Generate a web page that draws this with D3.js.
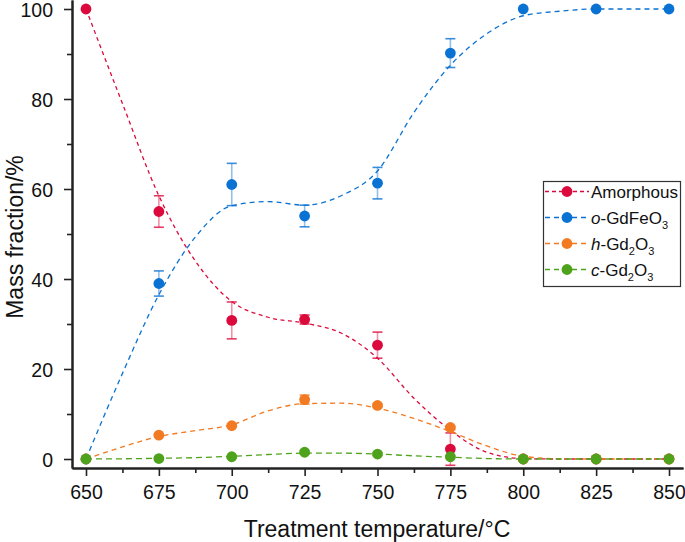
<!DOCTYPE html>
<html>
<head>
<meta charset="utf-8">
<script src="https://cdn.jsdelivr.net/npm/d3@7"></script>
<style>
  html, body { margin: 0; padding: 0; background: #fff; }
  svg { display: block; font-family: "Liberation Sans", Arial, Helvetica, sans-serif; }
</style>
</head>
<body>
<svg id="chart" width="685" height="542"></svg>
<script>
// ---- data ----
const temps = [650, 675, 700, 725, 750, 775, 800, 825, 850];
const amorphous    = [100, 55, 30.8, 31, 25.3, 2.2, 0, 0, 0];
const amorphousErr = [0, 3.5, 4.1, 1.0, 2.9, 3.6, 0, 0, 0];
const gdfeo3       = [0, 39, 61, 54, 61.3, 90.2, 100, 100, 100];
const gdfeo3Err    = [0, 2.8, 4.7, 2.4, 3.5, 3.2, 0, 0, 0];
const hgd2o3       = [0, 5.3, 7.4, 13.2, 11.9, 7.0, 0, 0, 0];
const hgd2o3Err    = [0, 0.3, 0.3, 1.0, 0.4, 0.4, 0, 0, 0];
const cgd2o3       = [0, 0.1, 0.5, 1.5, 1.1, 0.5, 0, 0, 0];
const cgd2o3Err    = [0, 0.1, 0.2, 0.4, 0.3, 0.2, 0, 0, 0];

// fitted (dashed) curves at 12.5 °C steps
const fitTemps     = [650, 662.5, 675, 687.5, 700, 712.5, 725, 737.5, 750, 762.5, 775, 787.5, 800, 812.5, 825, 837.5, 850];
const amorphousFit = [100, 79, 58.5, 44, 35, 31.5, 30.2, 28, 22.4, 13.5, 6.4, 1.5, 0.1, 0, 0, 0, 0];
const gdfeo3Fit    = [0, 19, 36.5, 49.3, 56.3, 57.2, 56.4, 58.5, 64, 77, 87.5, 94.5, 98.5, 99.5, 100, 100, 100];
const hgd2o3Fit    = [0, 2.7, 5.0, 6.3, 7.6, 10.7, 12.3, 12.4, 11.3, 9.0, 6.1, 2.9, 0.6, 0.05, 0, 0, 0];
const cgd2o3Fit    = [0, 0.05, 0.15, 0.3, 0.6, 1.0, 1.3, 1.3, 1.1, 0.7, 0.4, 0.1, 0, 0, 0, 0, 0];

const xMajor = [650, 675, 700, 725, 750, 775, 800, 825, 850];
const xMinor = [662.5, 687.5, 712.5, 737.5, 762.5, 787.5, 812.5, 837.5];
const yMajor = [0, 20, 40, 60, 80, 100];
const yMinor = [10, 30, 50, 70, 90];

const seriesDefs = [
  { key: "amorphous", values: amorphous, err: amorphousErr, fit: amorphousFit, color: "#dc0a3c", dash: "4,3.5" },
  { key: "gdfeo3",    values: gdfeo3,    err: gdfeo3Err,    fit: gdfeo3Fit,    color: "#0a72d2", dash: "5,4" },
  { key: "hgd2o3",    values: hgd2o3,    err: hgd2o3Err,    fit: hgd2o3Fit,    color: "#f27a22", dash: "5,4" },
  { key: "cgd2o3",    values: cgd2o3,    err: cgd2o3Err,    fit: cgd2o3Fit,    color: "#4fa31c", dash: "6,4" }
];

// ---- scales ----
const svg = d3.select("#chart");
const x = d3.scaleLinear().domain([645.2, 854.8]).range([72, 683]);
const y = d3.scaleLinear().domain([-2, 102]).range([468, 0]);

// ---- series ----
const line = d3.line().x((d, i) => x(fitTemps[i])).y(d => y(d)).curve(d3.curveMonotoneX);

seriesDefs.forEach(s => {
  const g = svg.append("g");
  g.append("path")
    .attr("d", line(s.fit))
    .attr("fill", "none")
    .attr("stroke", s.color)
    .attr("stroke-width", 1.3)
    .attr("stroke-dasharray", s.dash);
  temps.forEach((t, i) => {
    const e = s.err[i];
    if (e > 0) {
      const cx = x(t), y1 = y(s.values[i] + e), y2 = y(s.values[i] - e);
      g.append("line").attr("x1", cx).attr("x2", cx).attr("y1", y1).attr("y2", y2)
        .attr("stroke", s.color).attr("stroke-width", 1.6).attr("stroke-opacity", 0.45);
      [y1, y2].forEach(yy => {
        g.append("line").attr("x1", cx - 5).attr("x2", cx + 5).attr("y1", yy).attr("y2", yy)
          .attr("stroke", s.color).attr("stroke-width", 1.6).attr("stroke-opacity", 0.8);
      });
    }
  });
  g.selectAll("circle").data(s.values).enter().append("circle")
    .attr("cx", (d, i) => x(temps[i]))
    .attr("cy", d => y(d))
    .attr("r", 5.4)
    .attr("fill", s.color);
});

// ---- axes ----
const axisColor = "#222";
const xAxis = svg.append("g").attr("transform", "translate(0,468)")
  .call(d3.axisBottom(x).tickValues(xMajor).tickSize(8).tickSizeOuter(0).tickPadding(9).tickFormat(d3.format("d")));
const xMinorAxis = svg.append("g").attr("transform", "translate(0,468)")
  .call(d3.axisBottom(x).tickValues(xMinor).tickSize(5).tickSizeOuter(0).tickFormat(""));
const yAxis = svg.append("g").attr("transform", "translate(72,0)")
  .call(d3.axisLeft(y).tickValues(yMajor).tickSize(8).tickSizeOuter(0).tickPadding(11));
const yMinorAxis = svg.append("g").attr("transform", "translate(72,0)")
  .call(d3.axisLeft(y).tickValues(yMinor).tickSize(5).tickSizeOuter(0).tickFormat(""));

[xAxis, xMinorAxis, yAxis, yMinorAxis].forEach(a => {
  a.select(".domain").attr("stroke", axisColor).attr("stroke-width", 2);
  a.selectAll(".tick line").attr("stroke", axisColor).attr("stroke-width", 1.6);
  a.selectAll(".tick text").attr("fill", "#111").attr("font-size", 19.5)
    .attr("font-family", "'Liberation Sans', Arial, sans-serif");
});
yAxis.selectAll(".tick text").attr("dy", "0.4em");

// ---- axis titles ----
svg.append("text")
  .attr("x", 377).attr("y", 537)
  .attr("text-anchor", "middle")
  .attr("font-size", 23)
  .attr("fill", "#111")
  .text("Treatment temperature/°C");

svg.append("text")
  .attr("transform", "translate(23,237) rotate(-90)")
  .attr("text-anchor", "middle")
  .attr("font-size", 23)
  .attr("fill", "#111")
  .text("Mass fraction/%");

// ---- legend ----
const legendItems = [
  { color: seriesDefs[0].color, dash: "4,3", parts: [{ t: "Amorphous" }] },
  { color: seriesDefs[1].color, dash: "5,4", parts: [{ t: "o", i: true }, { t: "-GdFeO" }, { t: "3", sub: true }] },
  { color: seriesDefs[2].color, dash: "5,4", parts: [{ t: "h", i: true }, { t: "-Gd" }, { t: "2", sub: true }, { t: "O" }, { t: "3", sub: true }] },
  { color: seriesDefs[3].color, dash: "5,4", parts: [{ t: "c", i: true }, { t: "-Gd" }, { t: "2", sub: true }, { t: "O" }, { t: "3", sub: true }] }
];

const lg = svg.append("g");
lg.append("rect")
  .attr("x", 543.5).attr("y", 181.5).attr("width", 137).attr("height", 105)
  .attr("fill", "#fff").attr("stroke", "#333").attr("stroke-width", 1.2);

legendItems.forEach((it, k) => {
  const cy = 191.5 + k * 26;
  lg.append("line").attr("x1", 545).attr("x2", 589).attr("y1", cy).attr("y2", cy)
    .attr("stroke", it.color).attr("stroke-width", 1.3).attr("stroke-dasharray", it.dash);
  lg.append("circle").attr("cx", 567).attr("cy", cy).attr("r", 5.4).attr("fill", it.color);
  const txt = lg.append("text").attr("x", 591).attr("y", cy + 6)
    .attr("font-size", 17).attr("fill", "#111");
  let prevSub = false;
  it.parts.forEach(p => {
    const ts = txt.append("tspan").text(p.t);
    if (p.i) ts.attr("font-style", "italic");
    if (p.sub) ts.attr("font-size", 11).attr("dy", 5);
    else if (prevSub) ts.attr("dy", -5);
    prevSub = !!p.sub;
  });
});
</script>
</body>
</html>
